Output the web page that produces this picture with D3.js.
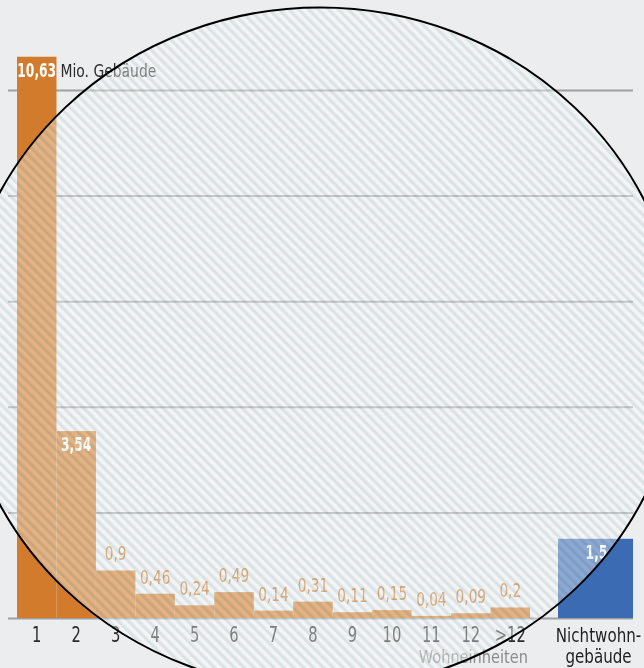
<!DOCTYPE html>
<html>
<head>
<meta charset="utf-8">
<script src="https://cdn.jsdelivr.net/npm/d3@7"></script>
<style>
  html, body { margin: 0; padding: 0; background: #ecedef; }
  svg { display: block; isolation: isolate; }
  text { font-family: "Liberation Sans Narrow", "DejaVu Sans Condensed", "Roboto Condensed", sans-serif; }
</style>
</head>
<body>
<div id="chart"></div>
<script>
// ---- data ----
const categories = ["1", "2", "3", "4", "5", "6", "7", "8", "9", "10", "11", "12", ">12"];
const values = [10.63, 3.54, 0.9, 0.46, 0.24, 0.49, 0.14, 0.31, 0.11, 0.15, 0.04, 0.09, 0.2];
const nonResCategories = ["Nichtwohn-\ngebäude"];
const nonResValues = [1.5];
const gridTicks = [0, 2, 4, 6, 8, 10];
const unitLabel = "Mio. Gebäude";
const axisTitle = "Wohneinheiten";

// ---- setup ----
const W = 644, H = 668;
const orange = "#d27b2c", blue = "#3b6cb3";
const fmt = v => String(v).replace(".", ",");

const svg = d3.select("#chart").append("svg")
  .attr("width", W).attr("height", H);

// horizontally condensed text placement (reference uses a condensed typeface)
function place(sel, fx, fy, s) {
  sel.attr("transform", (d, i) => `translate(${fx(d, i)},${fy(d, i)}) scale(${typeof s === "function" ? s(d, i) : s},1)`);
  return sel;
}

const defs = svg.append("defs");
const pat = defs.append("pattern")
  .attr("id", "hatch")
  .attr("patternUnits", "userSpaceOnUse")
  .attr("width", 7).attr("height", 7)
  .attr("patternTransform", "rotate(-45)");
pat.append("rect").attr("x", 0).attr("y", 0).attr("width", 3.3).attr("height", 7)
  .attr("fill", "#e4efef");

svg.append("rect").attr("width", W).attr("height", H).attr("fill", "#ecedef");

const x = d3.scaleBand().domain(categories).range([17, 530]).padding(0);
const x2 = d3.scaleBand().domain(nonResCategories).range([558, 633]).padding(0);
const y = d3.scaleLinear().domain([0, 10]).range([618, 90]);

// gridlines
const grid = svg.append("g").attr("transform", "translate(633,0)")
  .call(d3.axisLeft(y).tickValues(gridTicks).tickSize(625).tickFormat(""));
grid.select(".domain").remove();
grid.selectAll(".tick line").attr("stroke", "#9fa0a2").attr("stroke-width", 2);

// bars
svg.append("g").selectAll("rect").data(values).join("rect")
  .attr("x", (d, i) => x(categories[i]))
  .attr("width", x.bandwidth())
  .attr("y", d => y(d))
  .attr("height", d => y(0) - y(d))
  .attr("fill", orange);

svg.append("g").selectAll("rect").data(nonResValues).join("rect")
  .attr("x", (d, i) => x2(nonResCategories[i]))
  .attr("width", x2.bandwidth())
  .attr("y", d => y(d))
  .attr("height", d => y(0) - y(d))
  .attr("fill", blue);

// value labels
place(svg.append("g").selectAll("text").data(values).join("text")
  .attr("text-anchor", "middle")
  .attr("font-size", 19)
  .attr("font-weight", d => d > 1 ? "bold" : "normal")
  .attr("fill", d => d > 1 ? "#ffffff" : "#cf7422")
  .text(d => fmt(d)),
  (d, i) => x(categories[i]) + x.bandwidth() / 2,
  d => d > 1 ? y(d) + 20 : y(d) - 10,
  d => d > 1 ? 0.72 : 0.8);

place(svg.append("g").selectAll("text").data(nonResValues).join("text")
  .attr("text-anchor", "middle")
  .attr("font-size", 19)
  .attr("font-weight", "bold")
  .attr("fill", "#ffffff")
  .text(d => fmt(d)),
  (d, i) => x2(nonResCategories[i]) + x2.bandwidth() / 2 + 1,
  d => y(d) + 20,
  0.72);

// unit label
place(svg.append("text")
  .attr("font-size", 18)
  .attr("fill", "#2b2b2b")
  .text(unitLabel),
  () => x(categories[0]) + x.bandwidth() + 4,
  () => y(values[0]) + 20,
  0.86);

// category axis labels
place(svg.append("g").selectAll("text").data(categories).join("text")
  .attr("text-anchor", "middle")
  .attr("font-size", 21)
  .attr("fill", "#2b2b2b")
  .text(d => d),
  d => x(d) + x.bandwidth() / 2,
  () => 642,
  0.78);

const nr = place(svg.append("g").selectAll("text").data(nonResCategories).join("text")
  .attr("text-anchor", "middle")
  .attr("font-size", 20)
  .attr("fill", "#1f1f1f"),
  d => x2(d) + x2.bandwidth() / 2 + 3,
  () => 642,
  0.84);
nr.selectAll("tspan").data(d => d.split("\n")).join("tspan")
  .attr("x", 0)
  .attr("dy", (d, i) => i === 0 ? 0 : 21)
  .text(d => d);

place(svg.append("text")
  .attr("text-anchor", "end")
  .attr("font-size", 18)
  .attr("fill", "#8c8c8c")
  .text(axisTitle),
  () => x.range()[1] - 2,
  () => 663,
  0.9);

// lens overlay: uniform lightening, multiplied hatch, black rim
const lens = { cx: 320, cy: 348.5, rx: 360, ry: 341 };
svg.append("ellipse").attr("cx", lens.cx).attr("cy", lens.cy).attr("rx", lens.rx).attr("ry", lens.ry)
  .attr("fill", "rgba(255,255,255,0.42)");
svg.append("ellipse").attr("cx", lens.cx).attr("cy", lens.cy).attr("rx", lens.rx).attr("ry", lens.ry)
  .attr("fill", "url(#hatch)")
  .style("mix-blend-mode", "multiply");
svg.append("ellipse").attr("cx", lens.cx).attr("cy", lens.cy).attr("rx", lens.rx).attr("ry", lens.ry)
  .attr("fill", "none")
  .attr("stroke", "#000").attr("stroke-width", 2);
</script>
</body>
</html>
